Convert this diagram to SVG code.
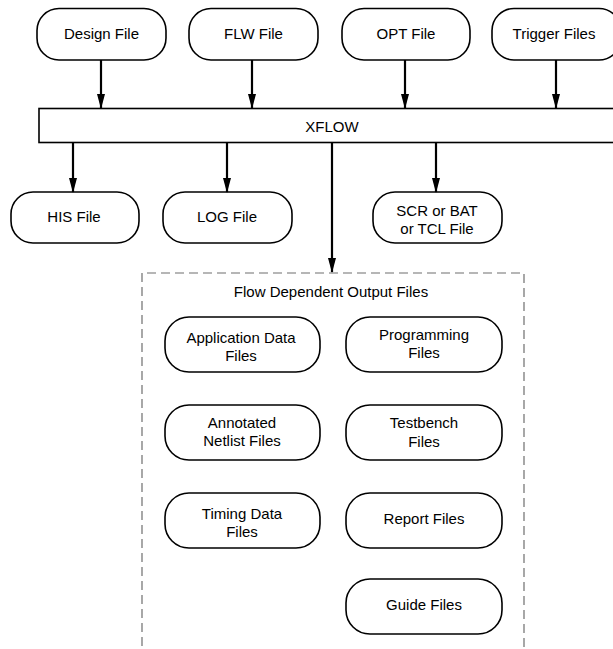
<svg xmlns="http://www.w3.org/2000/svg" width="613" height="649" viewBox="0 0 613 649">
<style>
.node{fill:#fff;stroke:#000;stroke-width:1.6}
.bar{fill:#fff;stroke:#000;stroke-width:1.6}
.t{font-family:"Liberation Sans",Arial,Helvetica,sans-serif;font-size:15px;fill:#000;text-anchor:middle}
.c{stroke:#000;stroke-width:2.2;fill:none;marker-end:url(#ah)}
.dash{fill:none;stroke:#6e6e6e;stroke-width:1.2;stroke-dasharray:9 5}
</style>
<defs>
<marker id="ah" viewBox="0 0 15 8" refX="14" refY="4" markerWidth="15" markerHeight="8" markerUnits="userSpaceOnUse" orient="auto">
<path d="M0,0 L15,4 L0,8 z" fill="#000"/>
</marker>
</defs>
<rect x="0" y="0" width="613" height="649" fill="#fff"/>

<g id="design">
<rect class="node" x="37" y="8.5" width="129" height="51.5" rx="22" ry="22"/>
<text class="t" x="101.5" y="39">Design File</text>
</g>
<g id="flw">
<rect class="node" x="189" y="8.5" width="129" height="51.5" rx="22" ry="22"/>
<text class="t" x="253.5" y="39">FLW File</text>
</g>
<g id="opt">
<rect class="node" x="342" y="8.5" width="128" height="51.5" rx="22" ry="22"/>
<text class="t" x="406" y="39">OPT File</text>
</g>
<g id="trigger">
<rect class="node" x="492" y="8.5" width="129" height="51.5" rx="22" ry="22"/>
<text class="t" x="554" y="39">Trigger Files</text>
</g>

<g id="xflow">
<rect class="bar" x="39" y="108.5" width="590" height="34"/>
<text class="t" x="332" y="132">XFLOW</text>
</g>

<g id="his">
<rect class="node" x="11" y="192" width="128" height="51" rx="22" ry="22"/>
<text class="t" x="74" y="222">HIS File</text>
</g>
<g id="log">
<rect class="node" x="163" y="192" width="129" height="51" rx="22" ry="22"/>
<text class="t" x="227" y="222">LOG File</text>
</g>
<g id="scr">
<rect class="node" x="373" y="192" width="129" height="51" rx="22" ry="22"/>
<text class="t" x="437" y="216">SCR or BAT</text>
<text class="t" x="437" y="234">or TCL File</text>
</g>

<g id="flowdep">
<path class="dash" d="M142,660 L142,273 L524,273 L524,660"/>
<text class="t" x="331" y="297">Flow Dependent Output Files</text>
</g>

<g id="appdata">
<rect class="node" x="165" y="317" width="155" height="55" rx="24" ry="24"/>
<text class="t" x="241" y="343">Application Data</text>
<text class="t" x="241" y="361">Files</text>
</g>
<g id="programming">
<rect class="node" x="346" y="317" width="156" height="55" rx="24" ry="24"/>
<text class="t" x="424" y="340">Programming</text>
<text class="t" x="424" y="358">Files</text>
</g>
<g id="annotated">
<rect class="node" x="165" y="405" width="155" height="55" rx="24" ry="24"/>
<text class="t" x="242" y="428">Annotated</text>
<text class="t" x="242" y="446">Netlist Files</text>
</g>
<g id="testbench">
<rect class="node" x="346" y="405" width="156" height="55" rx="24" ry="24"/>
<text class="t" x="424" y="428">Testbench</text>
<text class="t" x="424" y="447">Files</text>
</g>
<g id="timing">
<rect class="node" x="165" y="493" width="155" height="55" rx="24" ry="24"/>
<text class="t" x="242" y="519">Timing Data</text>
<text class="t" x="242" y="537">Files</text>
</g>
<g id="report">
<rect class="node" x="346" y="493" width="156" height="55" rx="24" ry="24"/>
<text class="t" x="424" y="524">Report Files</text>
</g>
<g id="guide">
<rect class="node" x="346" y="579" width="156" height="55" rx="24" ry="24"/>
<text class="t" x="424" y="610">Guide Files</text>
</g>

<g id="connectors">
<line class="c" x1="101" y1="60" x2="101" y2="108"/>
<line class="c" x1="252" y1="60" x2="252" y2="108"/>
<line class="c" x1="405" y1="60" x2="405" y2="108"/>
<line class="c" x1="556" y1="60" x2="556" y2="108"/>
<line class="c" x1="73" y1="143" x2="73" y2="192"/>
<line class="c" x1="227" y1="143" x2="227" y2="192"/>
<line class="c" x1="332" y1="143" x2="332" y2="272"/>
<line class="c" x1="436" y1="143" x2="436" y2="192"/>
</g>
</svg>
